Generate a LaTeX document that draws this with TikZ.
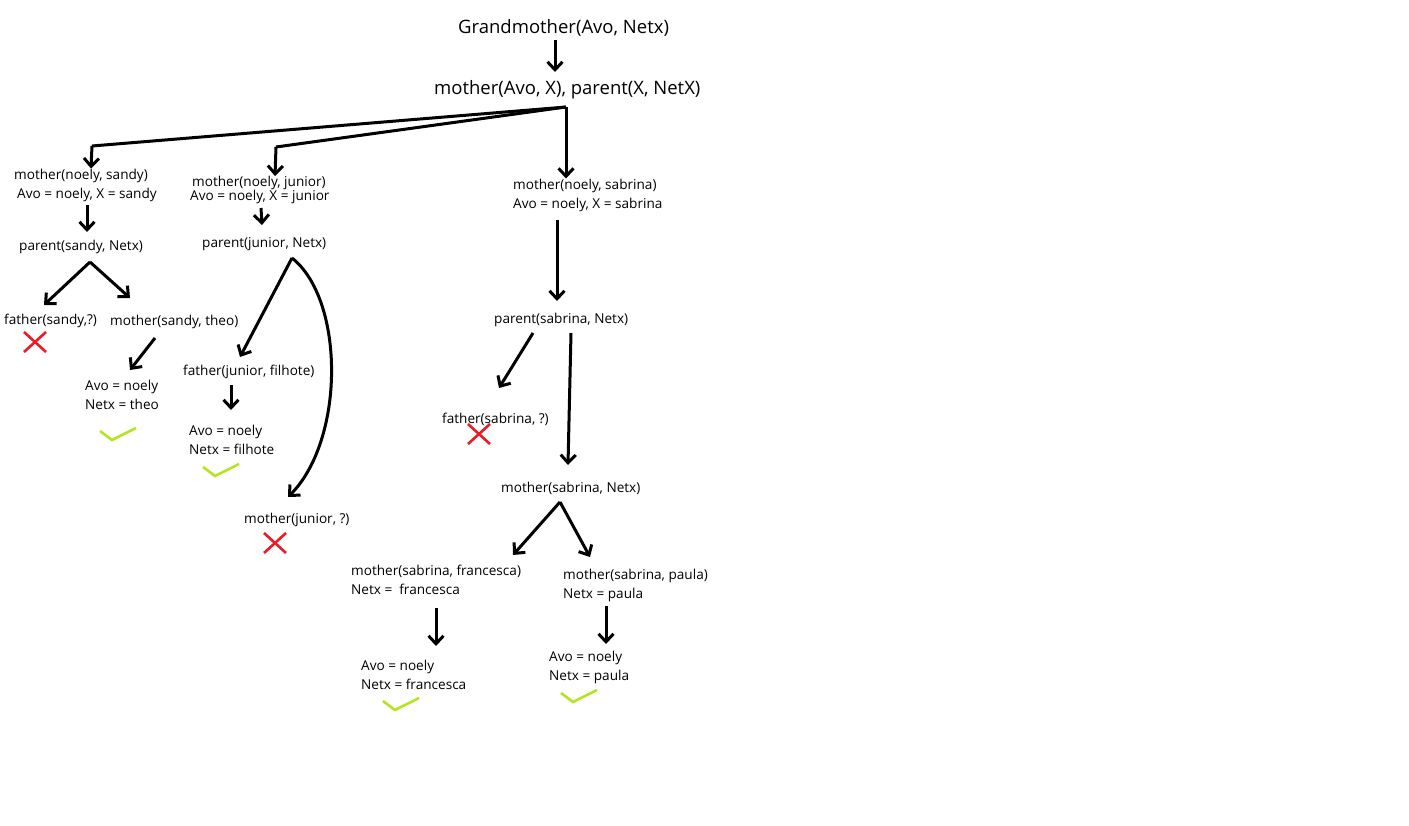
\documentclass[tikz,border=0pt]{standalone}
\usepackage{fontspec}
\setmainfont{Open Sans}
\usetikzlibrary{arrows.meta,calc}
\definecolor{xred}{HTML}{ED1C24}
\definecolor{okgreen}{HTML}{B5E61D}
\tikzset{
  big/.style={anchor=west,inner sep=0pt,font=\fontsize{18.5}{22}\selectfont},
  txt/.style={anchor=west,inner sep=0pt,font=\fontsize{13.6}{19}\selectfont,align=left},
  arr/.style={line width=3pt,-{Straight Barb[length=8pt,width=15pt,line width=3pt]}},
  ln/.style={line width=3pt},
  fail/.style={xred,line width=2.6pt},
  ok/.style={okgreen,line width=2.6pt},
}
\newcommand{\crossmark}[2]{\draw[fail] (#1-11,#2-10) -- (#1+11,#2+10) (#1-11,#2+10) -- (#1+11,#2-10);}
\newcommand{\checkmk}[2]{\draw[ok] (#1,#2) -- (#1+12,#2+9) -- (#1+36,#2-3);}
\begin{document}
\begin{tikzpicture}[x=1pt,y=-1pt]
\useasboundingbox[fill=white] (0,0) rectangle (1409,826);
% top
\node[big] (g) at (458,28) {Grandmother(Avo, Netx)};
\node[big] (m) at (434,90) {mother(Avo, X), parent(X, NetX)};
\coordinate (gs) at (555,40);
\coordinate (mn) at (555,72);
\draw[arr] (gs) -- (mn);
\coordinate (hub) at (566,107);
\coordinate (k1) at (92,146);
\coordinate (k2) at (276,147);
% left column
\node[txt] (ms) at (14,185) {mother(noely, sandy)\\\hspace*{3pt}Avo = noely, X = sandy};
\draw[ln] (hub) -- (k1);
\draw[arr] (k1) -- ([xshift=-1pt]k1 |- ms.north);
\node[txt] (ps) at (19,247) {parent(sandy, Netx)};
\draw[arr] (87,205) -- (87,232);
\node[txt] (fs) at (4,321) {father(sandy,?)};
\node[txt] (mst) at (110,322) {mother(sandy, theo)};
\coordinate (pss) at (90,262);
\draw[arr] (pss) -- (44,305);
\draw[arr] (pss) -- (130,298);
\crossmark{35}{342}
\node[txt] (rs) at (85,395) {Avo = noely\\Netx = theo};
\draw[arr] (155,338) -- (130,370);
\checkmk{100}{431}
% middle column
\node[txt] (mj) at (190,190) {\hspace*{2pt}mother(noely, junior)\\[-5pt]Avo = noely, X = junior};
\draw[ln] (hub) -- (k2);
\draw[arr] (k2) -- ([xshift=-1pt]k2 |- mj.north);
\draw[arr] (261,208) -- (262,225);
\node[txt] (pj) at (202,244) {parent(junior, Netx)};
\coordinate (pjs) at (292,258);
\node[txt] (fj) at (183,372) {father(junior, filhote)};
\draw[arr] (pjs) -- (240,357);
\draw[arr] (pjs) .. controls (345,300) and (345,440) .. (288,497);
\draw[arr] (231,385) -- (231,410);
\node[txt] (rj) at (189,440) {Avo = noely\\Netx = filhote};
\checkmk{203}{467}
\node[txt] (mjq) at (244,520) {mother(junior, ?)};
\crossmark{275}{543}
% right column
\node[txt] (mb) at (513,195) {mother(noely, sabrina)\\Avo = noely, X = sabrina};
\draw[arr] (hub) -- (hub |- mb.north);
\node[txt] (pb) at (494,320) {parent(sabrina, Netx)};
\draw[arr] (557,220) -- (557,301);
\node[txt] (fb) at (442,419) {father(sabrina, ?)};
\draw[arr] (533,333) -- (499,388);
\crossmark{479}{434}
\node[txt] (mbn) at (501,488) {mother(sabrina, Netx)};
\draw[arr] (571,333) -- (568,465);
\coordinate (mbs) at (560,502);
\draw[arr] (mbs) -- (513,555);
\draw[arr] (mbs) -- (590,557);
\node[txt] (mf) at (351,580) {mother(sabrina, francesca)\\Netx = \ francesca};
\node[txt] (mp) at (563,585) {mother(sabrina, paula)\\Netx = paula};
\draw[arr] (436,608) -- (436,646);
\draw[arr] (606,606) -- (606,644);
\node[txt] (rf) at (361,675) {Avo = noely\\Netx = francesca};
\node[txt] (rp) at (549,667) {Avo = noely\\Netx = paula};
\checkmk{383}{701}
\checkmk{561}{693}
\end{tikzpicture}
\end{document}
